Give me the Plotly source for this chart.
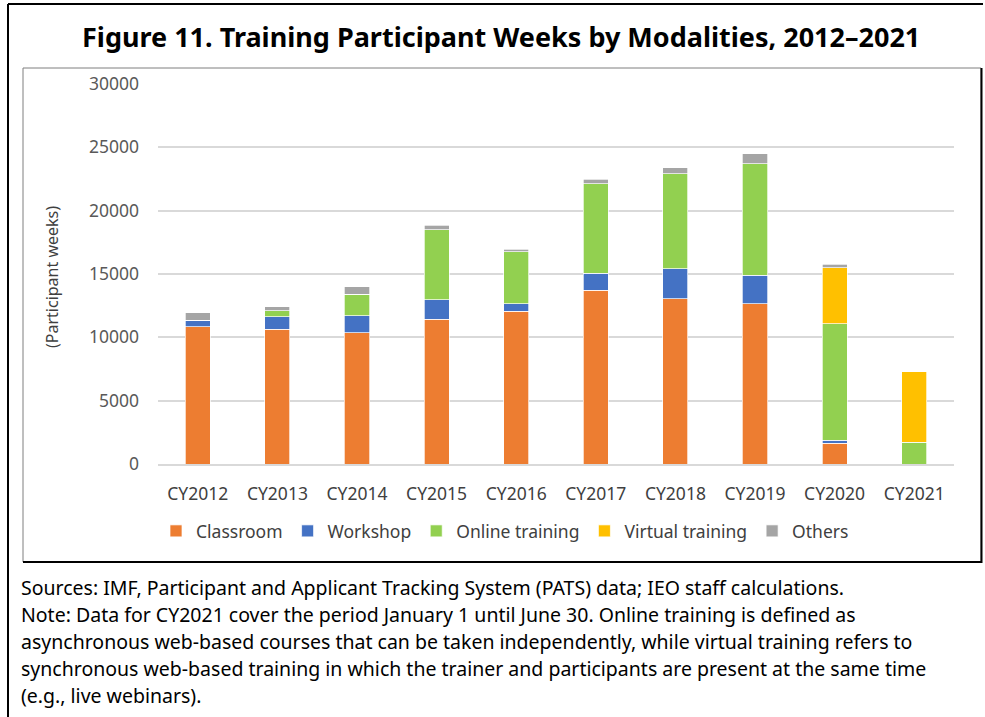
import plotly.graph_objects as go

years = ["CY2012", "CY2013", "CY2014", "CY2015", "CY2016",
         "CY2017", "CY2018", "CY2019", "CY2020", "CY2021"]
classroom = [10820, 10640, 10370, 11420, 12050, 13730, 13030, 12660, 1630, 0]
workshop = [520, 970, 1340, 1530, 610, 1340, 2380, 2230, 260, 0]
online = [0, 470, 1680, 5560, 4090, 7070, 7520, 8820, 9190, 1710]
virtual = [0, 0, 0, 0, 0, 0, 0, 0, 4410, 5560]
others = [610, 320, 610, 350, 190, 340, 440, 790, 270, 0]

series = [
    ("Classroom", classroom, "#ED7D31"),
    ("Workshop", workshop, "#4472C4"),
    ("Online training", online, "#92D050"),
    ("Virtual training", virtual, "#FFC000"),
    ("Others", others, "#A5A5A5"),
]

W, H = 985, 717
L, R, T, B = 158, 954, 84, 464


def px(x):
    return (x - L) / (R - L)


def py(y):
    return (B - y) / (B - T)


FONT = "Noto Sans"

fig = go.Figure()
for name, vals, col in series:
    fig.add_trace(go.Bar(
        x=years, y=vals, name=name,
        marker=dict(color=col, line=dict(color="white", width=0.7)),
    ))

shapes = [
    # outer frame (top + left)
    dict(type="line", xref="paper", yref="paper", x0=px(8), x1=px(983), y0=py(4), y1=py(4),
         line=dict(color="black", width=2)),
    dict(type="line", xref="paper", yref="paper", x0=px(8), x1=px(8), y0=py(4), y1=py(718),
         line=dict(color="black", width=2)),
    # inner chart box
    dict(type="rect", xref="paper", yref="paper", x0=px(23), x1=px(981), y0=py(68), y1=py(562),
         line=dict(color="#7f7f7f", width=1)),
    dict(type="line", xref="paper", yref="paper", x0=px(23), x1=px(982), y0=py(562), y1=py(562),
         line=dict(color="black", width=2)),
    dict(type="line", xref="paper", yref="paper", x0=px(981.5), x1=px(981.5), y0=py(68), y1=py(563),
         line=dict(color="black", width=2)),
]

notes = [
    "Sources: IMF, Participant and Applicant Tracking System (PATS) data; IEO staff calculations.",
    "Note: Data for CY2021 cover the period January 1 until June 30. Online training is defined as",
    "asynchronous web-based courses that can be taken independently, while virtual training refers to",
    "synchronous web-based training in which the trainer and participants are present at the same time",
    "(e.g., live webinars).",
]

annotations = [
    dict(text="<b>Figure 11. Training Participant Weeks by Modalities, 2012\u20132021</b>",
         xref="paper", yref="paper", x=px(501), y=py(36), xanchor="center", yanchor="middle",
         showarrow=False, font=dict(family=FONT, size=27, color="black")),
    dict(text="(Participant weeks)", textangle=-90,
         xref="paper", yref="paper", x=px(52), y=py(277), xanchor="center", yanchor="middle",
         showarrow=False, font=dict(family=FONT, size=16, color="#404040")),
]
for i, line in enumerate(notes):
    annotations.append(dict(
        text=line, xref="paper", yref="paper", x=px(19), y=py(587 + 27 * i),
        xanchor="left", yanchor="middle", showarrow=False,
        font=dict(family=FONT, size=19.5, color="black")))

fig.update_layout(
    width=W, height=H,
    margin=dict(l=L, r=W - R, t=T, b=H - B, pad=0),
    paper_bgcolor="white", plot_bgcolor="white",
    barmode="stack", bargap=0.685,
    font=dict(family=FONT, size=17, color="#404040"),
    showlegend=True,
    legend=dict(orientation="h", x=px(505), y=py(531), xanchor="center", yanchor="middle",
                traceorder="normal", font=dict(family=FONT, size=17.5, color="#404040"),
                itemwidth=30, bgcolor="rgba(0,0,0,0)"),
    shapes=shapes,
    annotations=annotations,
    xaxis=dict(showgrid=False, showline=True, linecolor="#d9d9d9", linewidth=1.5,
               ticks="", ticklabelstandoff=13,
               tickfont=dict(family=FONT, size=17.5, color="#404040")),
    yaxis=dict(range=[0, 30000], dtick=5000, tickformat="d", showgrid=True,
               gridcolor="#d9d9d9", gridwidth=1.5, zeroline=False, showline=False,
               ticks="", ticklabelstandoff=18,
               tickfont=dict(family=FONT, size=17.5, color="#595959")),
)

fig.write_html("out.html", config={"displayModeBar": False},
               post_script="document.body.style.margin='0';")
